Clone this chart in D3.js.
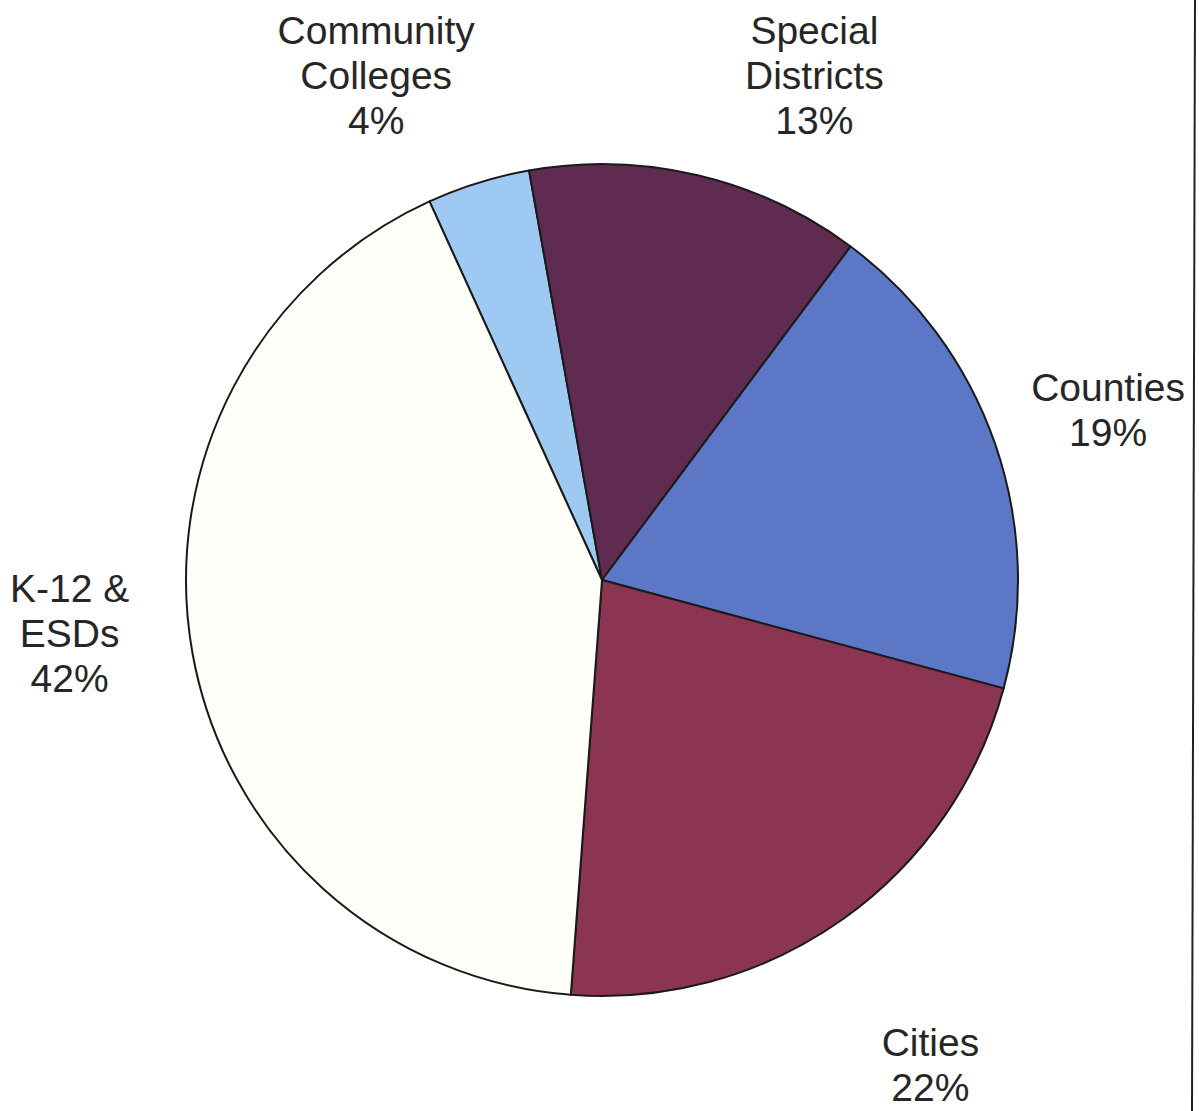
<!DOCTYPE html>
<html>
<head>
<meta charset="utf-8">
<script src="https://cdn.jsdelivr.net/npm/d3@7"></script>
<style>
  html, body { margin: 0; padding: 0; background: #fff; }
  svg { display: block; }
</style>
</head>
<body>
<div id="chart"></div>
<script>
  'use strict';

  // slices, clockwise from the Community Colleges wedge
  const categories = ['Community Colleges', 'Special Districts', 'Counties', 'Cities', 'K-12 & ESDs'];
  const shares = [4, 13, 19, 22, 42];
  const labelLines = [
    ['Community', 'Colleges', '4%'],
    ['Special', 'Districts', '13%'],
    ['Counties', '19%'],
    ['Cities', '22%'],
    ['K-12 &', 'ESDs', '42%']
  ];
  const colors = ['#9dc9f3', '#5f2b50', '#5c77c6', '#8c3552', '#fffffa'];

  const w = 1199, h = 1111;
  const cx = 602, cy = 580, r = 416;
  const startDeg = -24.5;
  const fontSize = 39, lineGap = 45;

  // where Excel dropped each label: degrees off the slice middle, distance from centre
  const labelShift = [-6.8, 9.5, 0.5, 1.15, 4.4];
  const labelDist = [553, 548, 534, 585, 535];

  const rad = d => d * Math.PI / 180;

  const svg = d3.select('#chart').append('svg')
    .attr('width', w)
    .attr('height', h);

  const pie = d3.pie()
    .sort(null)
    .value(d => d)
    .startAngle(rad(startDeg))
    .endAngle(rad(startDeg + 360));

  const arcs = pie(shares);
  const arc = d3.arc().innerRadius(0).outerRadius(r);

  const g = svg.append('g').attr('transform', `translate(${cx},${cy})`);

  g.selectAll('path')
    .data(arcs)
    .enter()
    .append('path')
    .attr('d', arc)
    .attr('fill', (d, i) => colors[i])
    .attr('stroke', '#1a1a1a')
    .attr('stroke-width', 2)
    .attr('stroke-linejoin', 'round');

  const labels = g.append('g').selectAll('text')
    .data(arcs)
    .enter()
    .append('text')
    .attr('font-family', '"Liberation Sans", Arial, sans-serif')
    .attr('font-size', fontSize + 'px')
    .attr('fill', '#262626')
    .attr('text-anchor', 'middle')
    .attr('transform', (d, i) => {
      const a = (d.startAngle + d.endAngle) / 2 + rad(labelShift[i]);
      const x = Math.sin(a) * labelDist[i];
      const y = -Math.cos(a) * labelDist[i];
      return `translate(${x},${y})`;
    });

  labels.each(function (d, i) {
    const lines = labelLines[i];
    const off = -(lines.length - 1) * lineGap / 2;
    d3.select(this).selectAll('tspan')
      .data(lines)
      .enter()
      .append('tspan')
      .attr('x', 0)
      .attr('y', (t, j) => off + j * lineGap + fontSize * 0.36)
      .text(t => t);
  });

  // scanner edge line on the right
  svg.append('line')
    .attr('x1', 1195).attr('y1', 0)
    .attr('x2', 1192).attr('y2', h)
    .attr('stroke', '#222')
    .attr('stroke-width', 2);
</script>
</body>
</html>
